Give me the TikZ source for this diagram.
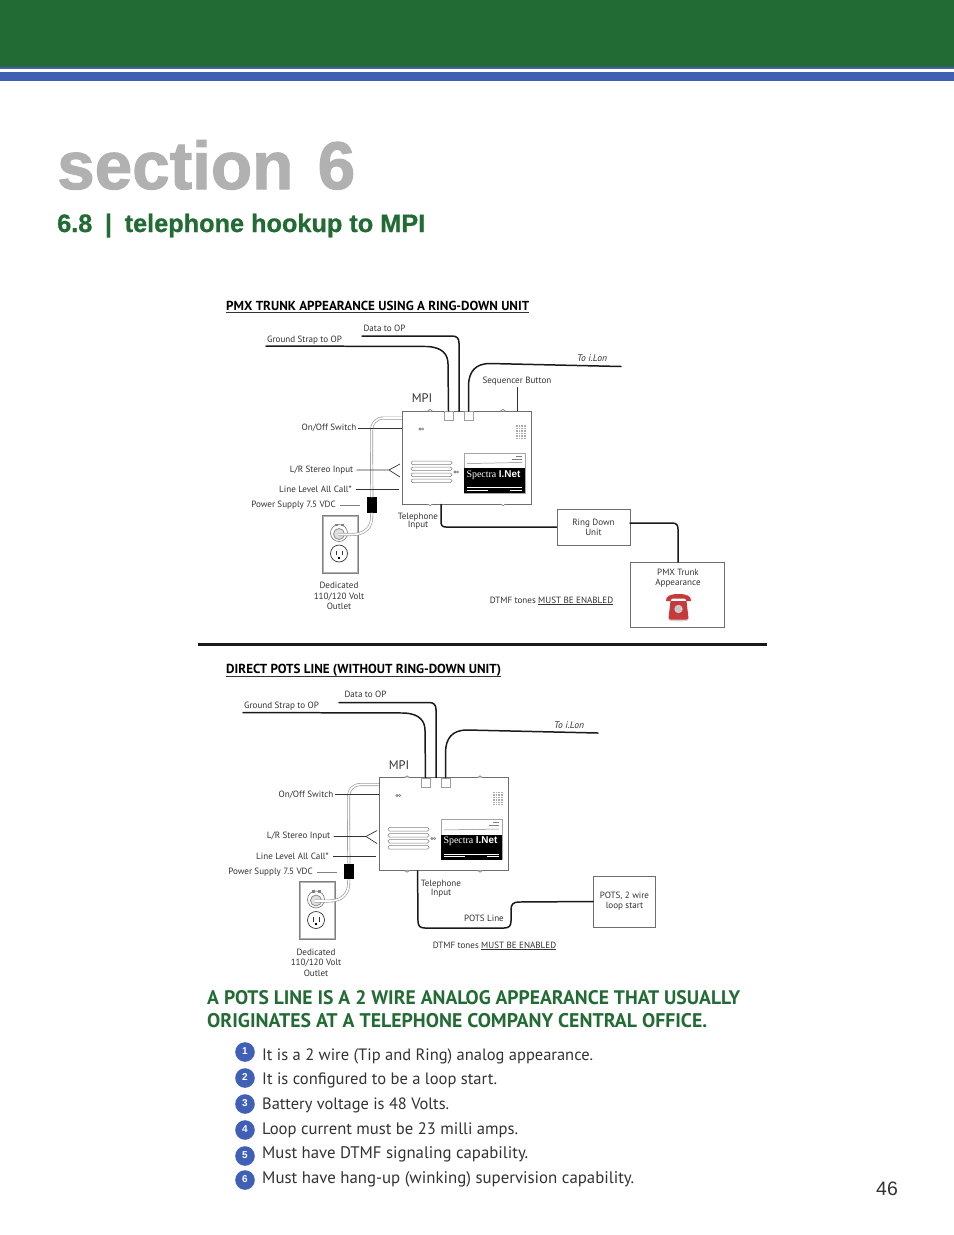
\documentclass[tikz,border=0pt]{standalone}
\usepackage{graphicx}
\usepackage{fontspec}
\usetikzlibrary{calc}
\setmainfont{PT Sans}
\newfontfamily\arialf{Liberation Sans}
\newfontfamily\arialh{Liberation Sans}[BoldFeatures={FakeBold=1.6}]
\newfontfamily\arialm{Liberation Sans}[BoldFeatures={FakeBold=0.8}]
\newfontfamily\serf{Liberation Serif}
\definecolor{bandgreen}{HTML}{226B34}
\definecolor{bandblue}{HTML}{3F60B5}
\definecolor{sectgray}{HTML}{B1B1B1}
\definecolor{labgray}{HTML}{333333}
\definecolor{wirek}{HTML}{1A1A1A}
\definecolor{boxgray}{HTML}{6E6E6E}
\definecolor{phonered}{HTML}{C63A3C}
\newcommand{\fw}[3]{\resizebox{#1bp}{!}{\fontsize{#2}{#2}\selectfont #3}}
\tikzset{
  lab/.style={font=\fontsize{9.1}{10}\selectfont,text=labgray,inner sep=0pt,align=center},
  wire/.style={draw=wirek,line width=1.5pt,line cap=round},
  thinw/.style={draw=labgray,line width=0.7pt},
  unitbox/.style={draw=boxgray,line width=0.9pt,fill=white,inner sep=0pt},
  louver/.style={draw=gray,line width=0.5pt,rounded corners=1.5pt,fill=white},
  cableo/.style={draw=gray!80,line width=3pt},
  cablei/.style={draw=white,line width=1.7pt},
  bul/.style={circle,fill=bandblue,minimum size=19.6bp,inner sep=0pt,text=white,font=\arialf\bfseries\fontsize{10}{10}\selectfont},
  itemt/.style={anchor=base west,inner sep=0pt,text=labgray},
  gheadt/.style={anchor=base west,inner sep=0pt,text=bandgreen},
  pheadt/.style={anchor=base west,inner sep=0pt,text=black},
  portb/.style={draw=gray!75,line width=.6pt,fill=white,minimum width=9bp,minimum height=9bp,inner sep=0pt,anchor=north}
}
% shared MPI panel: #1 name prefix, #2 dx, #3 dy
\newcommand{\mpipanel}[3]{%
\begin{scope}[shift={(#2,#3)}]
  % labels
  \node[lab,anchor=center] (#1gl) at (304.5,340) {Ground Strap to OP};
  \node[lab,anchor=center] (#1il) at (592,358.5) {\fw{30}{9}{\itshape To i.Lon}};
  \node[lab,font=\fontsize{12.5}{13}\selectfont] (#1mpil) at (422,398.5) {MPI};
  \node[lab,anchor=east] (#1ol) at (356.5,428) {On/Off Switch};
  \node[lab,anchor=east] (#1sl) at (353.5,470) {L/R Stereo Input};
  \node[lab,anchor=east] (#1ll) at (352,489.5) {Line Level All Call*};
  \node[lab,anchor=east] (#1pl) at (336,505.5) {Power Supply 7.5 VDC};
  \node[lab] (#1dl) at (339,596) {Dedicated\\[.6pt]110/120 Volt\\[.6pt]Outlet};
  % outlet
  \node[draw=gray,line width=.9pt,fill=white,minimum width=36bp,minimum height=58bp,inner sep=0pt] (#1plate) at (340,544) {};
  \draw[gray!60,line width=.4pt] ($(#1plate.south west)+(1.5,-1.5)$) rectangle ($(#1plate.north east)+(-1.5,1.5)$);
  \node[circle,draw=gray,line width=.7pt,fill=white,minimum size=17bp,inner sep=0pt] (#1rec1) at (339,533) {};
  \node[circle,draw=gray,line width=.7pt,fill=gray!25,minimum size=11bp,inner sep=0pt] (#1plug) at (339,534) {};
  \fill[gray] ($(#1rec1)+(-4.5,-9.5)$) rectangle +(3,2.5);
  \fill[gray] ($(#1rec1)+(1.5,-9.5)$) rectangle +(3,2.5);
  \node[circle,draw=labgray,line width=.7pt,fill=white,minimum size=17bp,inner sep=0pt] (#1rec2) at (339,553.5) {};
  \fill[labgray] ($(#1rec2)+(-3.5,-3)$) rectangle +(1,4.5);
  \fill[labgray] ($(#1rec2)+(2.5,-3)$) rectangle +(1,4.5);
  \fill[black] ($(#1rec2)+(-1,3)$) rectangle +(2,2);
  % power cable
  \coordinate (#1cabA) at (402,418);
  \coordinate (#1cabB) at (338,534.5);
  \node[fill=black,minimum width=10.5bp,minimum height=15.5bp,inner sep=0pt] (#1psu) at (371.8,505) {};
  \draw[cableo] (#1cabA) -- (384,418) .. controls (376,418) and (371.5,423) .. (371.5,432) -- (#1psu.north);
  \draw[cablei] (#1cabA) -- (384,418) .. controls (376,418) and (371.5,423) .. (371.5,432) -- (#1psu.north);
  \draw[cableo] (#1psu.south) -- (371.5,520) .. controls (370,530) and (362,534.5) .. (352,534.5) -- (#1cabB);
  \draw[cablei] (#1psu.south) -- (371.5,520) .. controls (370,530) and (362,534.5) .. (352,534.5) -- (#1cabB);
  % box
  \node[unitbox,minimum width=129bp,minimum height=93bp] (#1mpi) at (466.5,457.5) {};
  \foreach \xx in {430,503}{
    \draw[gray,line width=.7pt,fill=white] (\xx-2.5,411) .. controls (\xx-1,408.8) and (\xx+1,408.8) .. (\xx+2.5,411);
    \draw[gray,line width=.7pt,fill=white] (\xx-2.5,504) .. controls (\xx-1,506.2) and (\xx+1,506.2) .. (\xx+2.5,504);
  }
  \node[portb] (#1pa) at (448.5,411) {};
  \node[portb] (#1pb) at (468.5,411) {};
  % louvers
  \foreach \yy in {461,467,473,479}{ \draw[louver] (411,\yy) rectangle (452,\yy+3.5); }
  % screws
  \foreach \px/\py in {422/429,457/472}{
    \draw[gray,line width=.6pt] (\px-2,\py) circle (1.1) (\px+.6,\py) circle (1.1);
  }
  % grille
  \fill[gray!65] (515.5,425) rectangle (526,438.5);
  \foreach \gy in {427,429.5,...,438}{ \draw[white,line width=.5pt] (515.5,\gy) -- (526,\gy); }
  \foreach \gx in {518,520.5,523}{ \draw[white,line width=.4pt] (\gx,425) -- (\gx,438.5); }
  % label
  \node[draw=gray!70,line width=.5pt,fill=white,minimum width=61bp,minimum height=40bp,inner sep=0pt] (#1tag) at (494.5,473) {};
  \fill[black] (464,468) rectangle (525,493);
  \draw[gray,line width=.5pt] (467,463.5) -- (522,462.5);
  \draw[gray,line width=.5pt] (516,456) -- (522,456) (512,459) -- (522,459);
  \node[inner sep=0pt,text=white] (#1spec) at (493.5,475) {\fw{54}{10}{{\serf Spectra} {\arialf\bfseries I.Net}}};
  \draw[white,line width=.4pt] (467,487.5) -- (522,487.5);
  \draw[white,line width=.4pt] (467,490) -- (488,490) (510,490) -- (522,490);
  % thin connectors
  \draw[thinw] (#1ol.east) ++(1,0) -- (#1mpi.west |- #1ol.east);
  \coordinate (#1fork) at (389,470);
  \coordinate (#1forka) at (400,464);
  \coordinate (#1forkb) at (400,477);
  \coordinate (#1llend) at (399,489.5);
  \coordinate (#1psend) at (360,505.5);
  \draw[thinw] (#1sl.east) ++(3,0) -- (#1fork) -- (#1forka);
  \draw[thinw] (#1fork) -- (#1forkb);
  \draw[thinw] (#1ll.east) ++(4,0) -- (#1llend);
  \draw[thinw,draw=gray] (#1pl.east) ++(4,0) -- (#1psend);
  % heavy wires
  \coordinate (#1gs) at (266,346);
  \coordinate (#1ds) at (362,336);
  \coordinate (#1is) at (621,366.5);
  \coordinate (#1dtop) at (459,411);
  \draw[wire] (#1gs) -- (428,346.5) .. controls (442,347.5) and (448,354) .. (448,364) -- (#1pa.north);
  \draw[wire] (#1ds) -- (452,336) .. controls (457,336) and (459,338.5) .. (459,343) -- (#1dtop);
  \draw[wire] (#1is) -- (490,363.5) .. controls (475,363.5) and (469,372) .. (468.5,385) -- (#1pb.north);
\end{scope}}
\begin{document}
\begin{tikzpicture}[x=1bp,y=-1bp]
\useasboundingbox (0,0) rectangle (954,1235);
\fill[white] (0,0) rectangle (954,1235);
% header band
\fill[bandgreen] (0,0) rectangle (954,67);
\fill[bandblue] (0,67) rectangle (954,69);
\fill[bandblue] (0,72) rectangle (954,81);
% titles
\node[gheadt,text=sectgray] (sect) at (57,189) {\fw{298}{70}{\arialh\bfseries section\hspace{.36em}6}};
\node[gheadt] (sub) at (57,232) {\fw{368}{26}{\arialm\bfseries 6.8\hspace{.5em}|\hspace{.5em}telephone hookup to MPI}};
% panel 1
\node[pheadt] (h1) at (226,310) {\fw{303}{12.5}{\bfseries PMX TRUNK APPEARANCE USING A RING-DOWN UNIT}};
\draw[labgray,line width=.7pt] (h1.base west) ++(0,2.6) -- ++(303,0);
\mpipanel{a}{0}{0}
\node[lab] (adata) at (384.5,328.5) {Data to OP};
\node[lab] (aseq) at (517,381) {Sequencer Button};
\coordinate (aseqe) at (517,411);
\draw[thinw] (aseq.south) ++(0,2) -- (aseqe);
\node[lab] (atel) at (418,521) {Telephone\\[-1.5pt]Input};
\node[unitbox,minimum width=73bp,minimum height=36bp] (ring) at (593.5,527) {};
\node[lab] (ringl) at (593.5,527.5) {Ring Down\\[.3pt]Unit};
\node[unitbox,minimum width=94bp,minimum height=65bp] (pmx) at (677,594.5) {};
\node[lab] (pmxl) at (678,578.5) {PMX Trunk\\[.3pt]Appearance};
\node[lab] (adtmf) at (551.5,601) {DTMF tones \underline{MUST BE ENABLED}};
\coordinate (ringo) at (630,523);
\coordinate (pmxi) at (678,562);
\draw[wire] ($(ampi.south west)+(39.5,0)$) -- (441,522) .. controls (441,525.5) and (442.5,527) .. (446,527) -- (ring.west);
\draw[wire] (ringo) -- (672,523) .. controls (676.5,523) and (678,525) .. (678,529) -- (pmxi);
% phone
\begin{scope}[shift={(678.5,607)}]
  \fill[gray!35] (0,13) ellipse (10 and 1.3);
  \fill[phonered] (-8,-6) -- (8,-6) -- (10,11) .. controls (10,12) and (9,12.5) .. (8,12.5) -- (-8,12.5) .. controls (-9,12.5) and (-10,12) .. (-10,11) -- cycle;
  \fill[phonered] (-12.5,-6) .. controls (-13,-11) and (-8,-13) .. (0,-13) .. controls (8,-13) and (13,-11) .. (12.5,-6) -- (8,-6) .. controls (8,-8.5) and (6,-8.5) .. (5,-8.5) -- (-5,-8.5) .. controls (-6,-8.5) and (-8,-8.5) .. (-8,-6) -- cycle;
  \fill[gray!45] (0,2) circle (4.2);
  \draw[white,line width=.5pt,dotted] (0,2) circle (3);
\end{scope}
% divider
\coordinate (dva) at (198,644.5);
\coordinate (dvb) at (767,644.5);
\draw[line width=3pt,draw=black!90] (dva) -- (dvb);
% panel 2
\node[pheadt] (h2) at (226,673) {\fw{275}{12.5}{\bfseries DIRECT POTS LINE (WITHOUT RING-DOWN UNIT)}};
\draw[labgray,line width=.7pt] (h2.base west) ++(0,3) -- ++(275,0);
\mpipanel{b}{-23}{366.5}
\node[lab] (bdata) at (365.5,694.5) {Data to OP};
\node[lab] (btel) at (441,888.5) {Telephone\\[-1.5pt]Input};
\node[lab] (bpl) at (484,918) {POTS Line};
\node[unitbox,minimum width=62bp,minimum height=51bp] (pots) at (624.5,901.5) {};
\node[lab] (potsl) at (624.5,901.5) {POTS, 2 wire\\[.3pt]loop start};
\node[lab] (bdtmf) at (494.5,946) {DTMF tones \underline{MUST BE ENABLED}};
\draw[wire] ($(bmpi.south west)+(39,0)$) -- (418,921) .. controls (418,926) and (420,928) .. (425,928) -- (504,928) .. controls (509,928) and (511,926) .. (511,921) -- (511,910) .. controls (511,904.5) and (513,902) .. (519,902) -- (pots.west);
% green text
\node[gheadt] (g1) at (207,1004) {\fw{533}{18}{\bfseries A POTS LINE IS A 2 WIRE ANALOG APPEARANCE THAT USUALLY}};
\node[gheadt] (g2) at (207,1027) {\fw{500}{18}{\bfseries ORIGINATES AT A TELEPHONE COMPANY CENTRAL OFFICE.}};
% bullets
\foreach \n/\yy in {1/1052,2/1078,3/1104,4/1130,5/1156,6/1180}{
  \node[bul] (b\n) at (245,\yy) {\raisebox{1.2pt}{\n}};
}
\node[itemt] (t1) at (262,1060) {\fw{331}{17}{It is a 2 wire (Tip and Ring) analog appearance.}};
\node[itemt] (t2) at (262,1084) {\fw{235}{17}{It is configured to be a loop start.}};
\node[itemt] (t3) at (262,1109) {\fw{187}{17}{Battery voltage is 48 Volts.}};
\node[itemt] (t4) at (262,1134) {\fw{256}{17}{Loop current must be 23 milli amps.}};
\node[itemt] (t5) at (262,1158) {\fw{266}{17}{Must have DTMF signaling capability.}};
\node[itemt] (t6) at (262,1183) {\fw{372}{17}{Must have hang-up (winking) supervision capability.}};
\node[inner sep=0pt,font=\arialf\fontsize{19.5}{20}\selectfont,text=labgray] (pg) at (887,1188.5) {46};
\end{tikzpicture}
\end{document}
